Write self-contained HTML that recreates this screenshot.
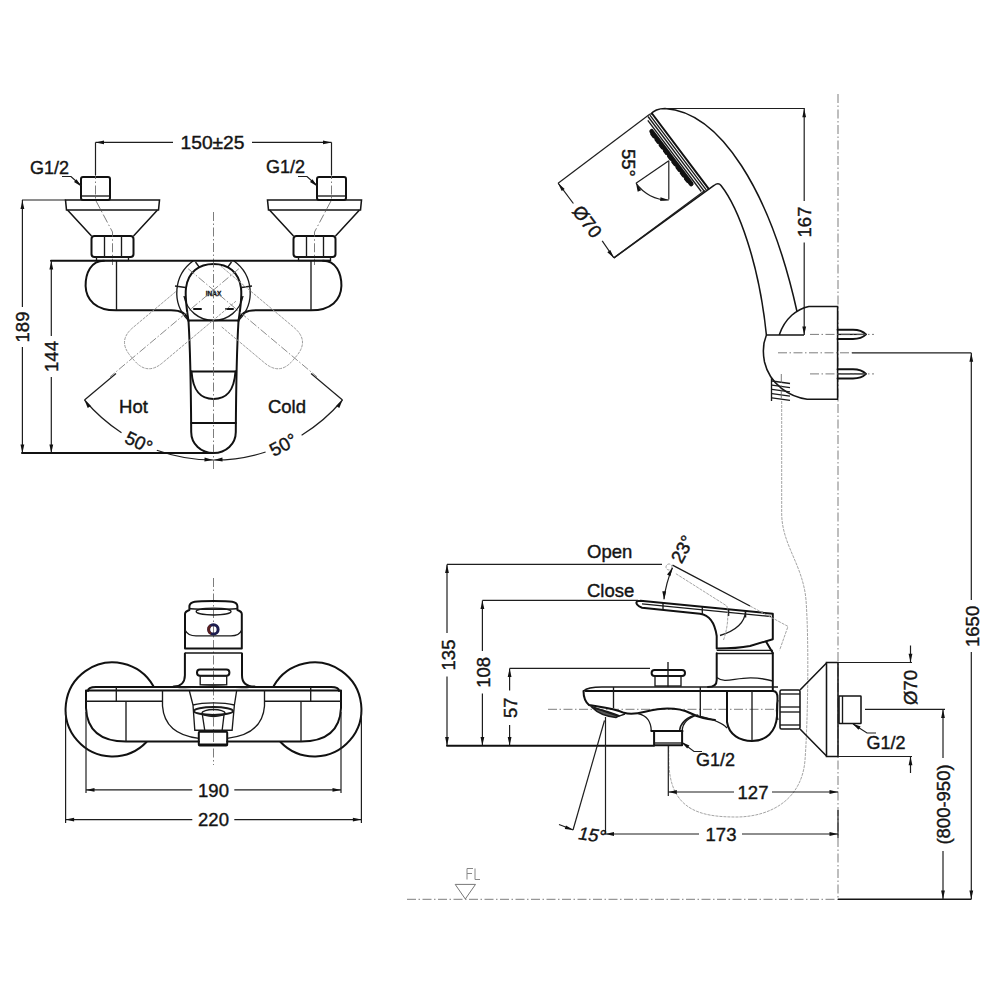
<!DOCTYPE html><html><head><meta charset="utf-8"><style>
html,body{margin:0;padding:0;background:#fff;}
svg{display:block;}
text{font-family:"Liberation Sans",sans-serif;fill:#141414;stroke:#141414;stroke-width:0.4;}
.m{fill:none;stroke:#151515;stroke-width:1.55;}
.o{fill:none;stroke:#111;stroke-width:2.0;stroke-linejoin:round;stroke-linecap:round;}
.t{fill:none;stroke:#1a1a1a;stroke-width:1.35;}
.d{fill:none;stroke:#1e1e1e;stroke-width:1.2;}
.c{fill:none;stroke:#666;stroke-width:0.85;stroke-dasharray:9 2.5 1.5 2.5;}
.g{fill:none;stroke:#9a9a9a;stroke-width:0.9;stroke-dasharray:3 1;}
</style></head><body>
<svg width="1000" height="1000" viewBox="0 0 1000 1000">
<rect width="1000" height="1000" fill="#fff"/>
<rect x="81.0" y="177" width="29" height="23" rx="2" class="o"/>
<line x1="81.5" y1="196.0" x2="109.5" y2="196.0" class="t"/>
<path d="M65.5 200 L159.5 200 L158.5 210 L66.5 210 Z" class="m" />
<path d="M67.5 210 L91.5 236 M157.5 210 L133.5 236" class="m" />
<rect x="91.5" y="236" width="42" height="21" rx="3" class="o"/>
<line x1="104.5" y1="236.0" x2="104.5" y2="257.0" class="t"/>
<line x1="121.5" y1="236.0" x2="121.5" y2="257.0" class="t"/>
<rect x="96.5" y="257" width="32" height="3.5" rx="0" class="t"/>
<path d="M95.5 170 L95.5 200 L112.5 232 L112.5 265" class="c" />
<rect x="317.0" y="177" width="29" height="23" rx="2" class="o"/>
<line x1="317.5" y1="196.0" x2="345.5" y2="196.0" class="t"/>
<path d="M267.5 200 L361.5 200 L360.5 210 L268.5 210 Z" class="m" />
<path d="M269.5 210 L293.5 236 M359.5 210 L335.5 236" class="m" />
<rect x="293.5" y="236" width="42" height="21" rx="3" class="o"/>
<line x1="306.5" y1="236.0" x2="306.5" y2="257.0" class="t"/>
<line x1="323.5" y1="236.0" x2="323.5" y2="257.0" class="t"/>
<rect x="298.5" y="257" width="32" height="3.5" rx="0" class="t"/>
<path d="M331.5 170 L331.5 200 L314.5 232 L314.5 265" class="c" />
<path d="M104 260.8 C91 260.8 85.5 273 85.6 286 C86 300 96 310.3 116 310.3 L171 310.3 C182 310.3 187 314 188.5 321" class="o" />
<path d="M323 260.8 C336 260.8 341.5 273 341.4 286 C341 300 331 310.3 311 310.3 L256 310.3 C245 310.3 240 314 238.5 321" class="o" />
<line x1="116.5" y1="260.8" x2="116.5" y2="310.3" class="t"/>
<line x1="311.0" y1="260.8" x2="311.0" y2="310.3" class="t"/>
<path d="M193 261 A39 39 0 0 0 188 320" class="t" />
<path d="M234 261 A39 39 0 0 1 239 320" class="t" />
<path d="M184 296 A30 30 0 0 0 243 296" class="t" />
<line x1="195.5" y1="262.0" x2="199.5" y2="267.5" class="t"/>
<line x1="231.5" y1="262.0" x2="227.5" y2="267.5" class="t"/>
<line x1="175.0" y1="286.0" x2="185.5" y2="287.5" class="t"/>
<line x1="252.0" y1="286.0" x2="241.5" y2="287.5" class="t"/>
<path d="M188.5 321 C186 305 185 296 186 288 C188 272 199 264 213.5 264 C228 264 239 272 241 288 C242 296 241 305 238.5 321 C237 345 236 400 235.8 432 C235.8 444 226 453 213.5 453 C201 453 191.2 444 191.2 432 C191 400 190 345 188.5 321" class="o" />
<line x1="189.0" y1="320.5" x2="238.0" y2="320.5" class="o"/>
<line x1="191.0" y1="371.5" x2="236.0" y2="371.5" class="o"/>
<path d="M191.5 371.5 C193 392 201 399 213.5 399 C226 399 234 392 235.5 371.5" class="o" />
<line x1="191.5" y1="423.0" x2="235.8" y2="423.0" class="o"/>
<text x="213.5" y="296" font-size="8" font-weight="bold" text-anchor="middle" textLength="15.5" lengthAdjust="spacingAndGlyphs" stroke="#141414" stroke-width="0.35">INAX</text>
<line x1="194.0" y1="309.0" x2="201.0" y2="309.0" class="o"/>
<line x1="226.0" y1="309.0" x2="233.0" y2="309.0" class="o"/>
<g transform="translate(213.5 290) rotate(50)">
<path d="M-23 30 L-23 86 Q-23 106 -3 106 L3 106 Q23 106 23 86 L23 -10" class="g"/>
<line x1="0" y1="-33" x2="0" y2="135" class="g" style="stroke:#888;stroke-dasharray:8 2 1.5 2"/>
</g>
<g transform="translate(213.5 290) rotate(-50)">
<path d="M-23 30 L-23 86 Q-23 106 -3 106 L3 106 Q23 106 23 86 L23 -10" class="g"/>
<line x1="0" y1="-33" x2="0" y2="135" class="g" style="stroke:#888;stroke-dasharray:8 2 1.5 2"/>
</g>
<line x1="84.5" y1="400.0" x2="116.0" y2="373.5" class="d"/>
<line x1="342.5" y1="400.0" x2="311.0" y2="373.5" class="d"/>
<path d="M84.5 400 A169 169 0 0 0 121.5 432.7" class="d" />
<path d="M156.8 450.2 A169 169 0 0 0 213.5 460" class="d" />
<path d="M342.5 400 A169 169 0 0 1 301.6 435.2" class="d" />
<path d="M265.6 452 A169 169 0 0 1 213.5 460" class="d" />
<path d="M84.5 400.0 L90.9 405.9 L87.7 408.1Z" fill="#111"/>
<path d="M342.5 400.0 L339.3 408.1 L336.1 405.9Z" fill="#111"/>
<path d="M213.0 460.0 L204.4 461.4 L204.6 457.6Z" fill="#111"/>
<path d="M214.0 460.0 L222.4 457.6 L222.6 461.4Z" fill="#111"/>
<line x1="213.5" y1="212.0" x2="213.5" y2="470.0" class="c"/>
<line x1="95.5" y1="142.4" x2="173.0" y2="142.4" class="d"/>
<line x1="252.0" y1="142.4" x2="331.5" y2="142.4" class="d"/>
<path d="M95.5 142.4 L104.0 140.5 L104.0 144.3Z" fill="#111"/>
<path d="M331.5 142.4 L323.0 144.3 L323.0 140.5Z" fill="#111"/>
<line x1="95.5" y1="142.4" x2="95.5" y2="175.0" class="d"/>
<line x1="331.5" y1="142.4" x2="331.5" y2="175.0" class="d"/>
<text x="212.5" y="148.5" font-size="18.5" text-anchor="middle" textLength="64" lengthAdjust="spacingAndGlyphs">150±25</text>
<text x="30" y="174" font-size="18" text-anchor="start" >G1/2</text>
<text x="266" y="172.5" font-size="18" text-anchor="start" >G1/2</text>
<path d="M62 176.5 L71 176.5 L81.5 186" class="d" />
<path d="M81.5 186.5 L74.0 182.1 L76.5 179.3Z" fill="#111"/>
<path d="M298 176.5 L307 176.5 L317.5 186" class="d" />
<path d="M317.5 186.5 L310.0 182.1 L312.5 179.3Z" fill="#111"/>
<line x1="22.0" y1="200.0" x2="66.0" y2="200.0" class="d"/>
<line x1="22.4" y1="200.0" x2="22.4" y2="307.0" class="d"/>
<line x1="22.4" y1="347.0" x2="22.4" y2="453.0" class="d"/>
<path d="M22.4 200.5 L24.3 209.0 L20.5 209.0Z" fill="#111"/>
<path d="M22.4 453.0 L20.5 444.5 L24.3 444.5Z" fill="#111"/>
<g transform="translate(22.4 327) rotate(-90)"><text x="0" y="6.74" font-size="18.5" text-anchor="middle">189</text></g>
<line x1="51.0" y1="260.8" x2="330.0" y2="260.8" class="o"/>
<line x1="51.3" y1="260.8" x2="51.3" y2="336.0" class="d"/>
<line x1="51.3" y1="377.0" x2="51.3" y2="453.0" class="d"/>
<path d="M51.3 261.0 L53.2 269.5 L49.4 269.5Z" fill="#111"/>
<path d="M51.3 453.0 L49.4 444.5 L53.2 444.5Z" fill="#111"/>
<g transform="translate(51.3 356.5) rotate(-90)"><text x="0" y="6.74" font-size="18.5" text-anchor="middle">144</text></g>
<line x1="22.0" y1="453.0" x2="213.0" y2="453.0" class="o"/>
<text x="133.5" y="412.5" font-size="18.5" text-anchor="middle" >Hot</text>
<text x="287" y="412.5" font-size="18.5" text-anchor="middle" >Cold</text>
<g transform="translate(139 442) rotate(25)"><text x="0" y="6.74" font-size="18.5" text-anchor="middle">50°</text></g>
<g transform="translate(283 444.5) rotate(-28)"><text x="0" y="6.74" font-size="18.5" text-anchor="middle">50°</text></g>
<line x1="213.5" y1="578.0" x2="213.5" y2="765.0" class="c"/>
<path d="M153.3 686 A47 47 0 1 0 146.5 742" class="o" />
<path d="M273.7 686 A47 47 0 1 1 280.5 742" class="o" />
<path d="M88 691 C88 688 92 687 96 687 L331 687 C335 687 339 688 339 691" class="o" />
<path d="M86 690.5 L341 690.5" class="o" />
<path d="M86 691 L86 708 C87 730 100 741.5 126 741.5 L198.8 741.5" class="o" />
<path d="M341 691 L341 708 C340 730 327 741.5 301 741.5 L227.2 741.5" class="o" />
<line x1="86.0" y1="701.2" x2="162.5" y2="701.2" class="t"/>
<line x1="264.5" y1="701.2" x2="341.0" y2="701.2" class="t"/>
<line x1="116.3" y1="687.0" x2="116.3" y2="701.2" class="t"/>
<line x1="310.7" y1="687.0" x2="310.7" y2="701.2" class="t"/>
<line x1="126.0" y1="701.2" x2="126.0" y2="742.0" class="t"/>
<line x1="301.0" y1="701.2" x2="301.0" y2="742.0" class="t"/>
<path d="M162.5 690 L162.5 706 C164 726 178 736 198.8 738.3" class="t" />
<path d="M264.5 690 L264.5 706 C263 726 249 736 227.2 738.3" class="t" />
<path d="M185 648.6 L185 614 C185 612 186.5 611 189.4 610 L189.4 606 C190 601.5 195 601 213.5 601 C232 601 237 601.5 237.4 606 L237.4 610 C240.3 611 241.8 612 241.8 614 L241.8 648.6 Z" class="o" />
<path d="M189.4 608.5 C195 609.5 232 609.5 237.4 608.5" class="t" />
<ellipse cx="213.6" cy="611.6" rx="17.4" ry="3.4" class="t"/>
<path d="M185.2 630.2 C187 634 190 635.8 196 635.8 L231 635.8 C237 635.8 240 634 241.6 630.2" class="t" />
<circle cx="213.4" cy="629.4" r="4.7" fill="none" stroke="#1c1c4e" stroke-width="3"/>
<path d="M210.5 625.6 A4.7 4.7 0 0 0 211 633.6" fill="none" stroke="#5a2020" stroke-width="2.6"/>
<line x1="185.0" y1="653.0" x2="241.8" y2="653.0" class="m"/>
<path d="M184.9 653.4 L184.9 675.3 C184.9 683 180 686.6 173.6 686.6" class="o" />
<path d="M242 653.4 L242 675.3 C242 683 247 686.6 254.6 686.6" class="o" />
<path d="M175.4 687 C190 689 200 686 213.5 686 C227 686 237 689 251.6 687" class="t" />
<rect x="197" y="669.5" width="32.4" height="6.3" rx="3" class="o"/>
<rect x="200.2" y="675.8" width="26.5" height="9" rx="0" class="t"/>
<path d="M189.4 691 L193 705 L194.8 730.2 L232.1 730.2 L234.4 705 L236.6 691" class="t" />
<path d="M193 705 C200 703 207 702.8 213.5 702.8 C220 702.8 227 703 234.4 705" class="t" />
<ellipse cx="213.5" cy="711" rx="19.5" ry="4" fill="none" stroke="#1a1a1a" stroke-width="2"/>
<ellipse cx="213.5" cy="713" rx="11.5" ry="3.5" class="t"/>
<path d="M202.4 715 L204.7 730 M224 715 L222.2 730" class="t" />
<rect x="198.8" y="731.8" width="28.4" height="13.6" rx="1" class="o"/>
<line x1="199.0" y1="744.5" x2="227.0" y2="744.5" class="o"/>
<line x1="86.0" y1="712.0" x2="86.0" y2="793.0" class="d"/>
<line x1="341.0" y1="712.0" x2="341.0" y2="793.0" class="d"/>
<line x1="65.6" y1="712.0" x2="65.6" y2="823.0" class="d"/>
<line x1="361.4" y1="712.0" x2="361.4" y2="823.0" class="d"/>
<line x1="86.0" y1="789.9" x2="192.3" y2="789.9" class="d"/>
<line x1="234.3" y1="789.9" x2="341.0" y2="789.9" class="d"/>
<path d="M86.0 789.9 L94.5 788.0 L94.5 791.8Z" fill="#111"/>
<path d="M341.0 789.9 L332.5 791.8 L332.5 788.0Z" fill="#111"/>
<line x1="65.6" y1="819.6" x2="192.3" y2="819.6" class="d"/>
<line x1="234.3" y1="819.6" x2="361.4" y2="819.6" class="d"/>
<path d="M65.6 819.6 L74.1 817.7 L74.1 821.5Z" fill="#111"/>
<path d="M361.4 819.6 L352.9 821.5 L352.9 817.7Z" fill="#111"/>
<text x="213.5" y="796.7" font-size="18.5" text-anchor="middle" >190</text>
<text x="213.5" y="826.2" font-size="18.5" text-anchor="middle" >220</text>
<line x1="838.0" y1="94.0" x2="838.0" y2="899.3" class="c"/>
<path d="M650.5 114.5 C654 110 658 108.5 665 108.5 C720 112 770 190 797 311.5" class="m" />
<path d="M613.9 257.9 L714 185.5 C716.5 183.5 719 183 721 185.5 C738 207 759 262 766.4 335" class="m" />
<line x1="652.0" y1="113.5" x2="708.5" y2="188.6" class="o"/>
<line x1="649.9" y1="115.1" x2="706.4" y2="190.2" class="t"/>
<line x1="648.0" y1="116.5" x2="704.5" y2="191.6" class="t"/>
<line x1="647.8" y1="120.4" x2="701.3" y2="191.5" class="t"/>
<path d="M651.6 131.3 L691.3 184.0" fill="none" stroke="#111" stroke-width="4.6" stroke-linecap="round"/>
<path d="M651.2 134.1 L688.5 183.6" fill="none" stroke="#111" stroke-width="2" stroke-dasharray="4 3" stroke-linecap="round"/>
<line x1="650.0" y1="114.0" x2="558.1" y2="183.2" class="d"/>
<line x1="704.8" y1="190.4" x2="613.9" y2="257.9" class="d"/>
<line x1="558.1" y1="183.2" x2="573.4" y2="203.5" class="d"/>
<line x1="602.2" y1="240.8" x2="613.9" y2="257.9" class="d"/>
<path d="M558.1 183.2 L564.7 188.9 L561.7 191.1Z" fill="#111"/>
<path d="M613.9 257.9 L607.3 252.2 L610.3 250.0Z" fill="#111"/>
<g transform="translate(587.5 221.5) rotate(53)"><text x="0" y="6.74" font-size="18.5" text-anchor="middle">Ø70</text></g>
<line x1="668.8" y1="160.7" x2="668.8" y2="199.5" class="d"/>
<line x1="668.8" y1="160.7" x2="636.0" y2="183.2" class="d"/>
<path d="M636 183.2 A39.5 39.5 0 0 0 668.8 200" class="d" />
<path d="M636.0 183.2 L641.2 190.2 L637.7 191.7Z" fill="#111"/>
<path d="M668.8 200.0 L660.2 201.1 L660.5 197.3Z" fill="#111"/>
<g transform="translate(628.3 163) rotate(90)"><text x="0" y="6.74" font-size="18.5" text-anchor="middle">55°</text></g>
<line x1="665.0" y1="108.5" x2="804.8" y2="108.5" class="d"/>
<line x1="804.2" y1="108.5" x2="804.2" y2="201.0" class="d"/>
<line x1="804.2" y1="242.5" x2="804.2" y2="335.0" class="d"/>
<path d="M804.2 108.8 L806.1 117.3 L802.3 117.3Z" fill="#111"/>
<path d="M804.2 335.0 L802.3 326.5 L806.1 326.5Z" fill="#111"/>
<g transform="translate(804.2 222) rotate(-90)"><text x="0" y="6.74" font-size="18.5" text-anchor="middle">167</text></g>
<path d="M766.4 335 L804 335 M779.2 335 C785 318 797 309 808.8 306.4 L837.6 306.4 L837.6 399.2 L807.2 399.2 C790 397 770 385 764.5 362 C762.5 352 763.5 342 766.4 335" class="m" />
<path d="M837.6 329.79999999999995 L853 329.79999999999995 C860 329.79999999999995 864 332.4 866 334.4 C864 336.4 860 339.0 853 339.0 L837.6 339.0" class="o" />
<line x1="838.0" y1="334.4" x2="866.0" y2="334.4" class="t"/>
<line x1="810.0" y1="334.4" x2="874.0" y2="334.4" class="c"/>
<path d="M837.6 369.29999999999995 L853 369.29999999999995 C860 369.29999999999995 864 371.9 866 373.9 C864 375.9 860 378.5 853 378.5 L837.6 378.5" class="o" />
<line x1="838.0" y1="373.9" x2="866.0" y2="373.9" class="t"/>
<line x1="810.0" y1="373.9" x2="874.0" y2="373.9" class="c"/>
<line x1="778.0" y1="352.8" x2="852.0" y2="352.8" class="c"/>
<line x1="852.0" y1="352.8" x2="971.4" y2="352.8" class="d"/>
<line x1="772.0" y1="381.0" x2="790.0" y2="383.5" class="t"/>
<line x1="772.0" y1="385.2" x2="790.0" y2="387.7" class="t"/>
<line x1="772.0" y1="389.4" x2="790.0" y2="391.9" class="t"/>
<line x1="772.0" y1="393.6" x2="790.0" y2="396.1" class="t"/>
<line x1="772.0" y1="397.8" x2="790.0" y2="400.3" class="t"/>
<line x1="771.5" y1="378.0" x2="771.5" y2="401.0" class="t"/>
<line x1="781.3" y1="374.0" x2="781.3" y2="400.0" class="c"/>
<line x1="971.3" y1="353.0" x2="971.3" y2="600.0" class="d"/>
<line x1="971.3" y1="652.0" x2="971.3" y2="899.3" class="d"/>
<path d="M971.3 353.2 L973.2 361.7 L969.4 361.7Z" fill="#111"/>
<path d="M971.3 899.0 L969.4 890.5 L973.2 890.5Z" fill="#111"/>
<g transform="translate(972 626.4) rotate(-90)"><text x="0" y="6.74" font-size="18.5" text-anchor="middle">1650</text></g>
<path d="M781.7 401 L781.7 514 C782 545 803 565 806 600 C809 640 808 720 805 760 C802 800 770 817 736 817 C700 817 669 810 668.8 760 L668.8 746" class="g" />
<line x1="407.0" y1="899.3" x2="838.0" y2="899.3" class="c"/>
<line x1="838.0" y1="899.3" x2="971.4" y2="899.3" class="m"/>
<path d="M455.2 884.4 L475.5 884.4 L465.3 899 Z" fill="none" stroke="#777" stroke-width="1"/>
<path d="M467 879.5 L467 868.5 L473 868.5 M467 873.5 L472 873.5 M475 868.5 L475 879.5 L480 879.5" fill="none" stroke="#888" stroke-width="1"/>
<line x1="548.0" y1="709.3" x2="780.0" y2="709.3" class="c"/>
<path d="M640.5 600.8 L772.8 613.7 L772.8 639.2 L750 646 C740 648 730 648.5 716.7 648.5 L716.7 636 C715 624 710 615 700 613.7 L642 607.7 C637 606 635.5 603 637 601.5 C638 600.8 639.5 600.8 640.5 600.8" class="o" />
<line x1="642.0" y1="603.8" x2="771.0" y2="616.5" class="t"/>
<line x1="663.0" y1="603.0" x2="663.0" y2="609.5" class="t"/>
<line x1="702.3" y1="607.0" x2="702.3" y2="614.0" class="t"/>
<line x1="728.6" y1="609.0" x2="728.6" y2="616.0" class="t"/>
<line x1="745.6" y1="611.0" x2="745.6" y2="617.5" class="t"/>
<path d="M745.6 611 C745 622 738 630 720 635.5" class="t" />
<line x1="716.7" y1="650.3" x2="772.8" y2="650.3" class="t"/>
<line x1="716.7" y1="653.5" x2="772.8" y2="653.5" class="t"/>
<path d="M766 641.5 L772.8 653" class="o" />
<path d="M716.7 653.3 L716.7 680 C716.7 685 714 687 708 687" class="o" />
<path d="M772.8 653.3 L772.8 690" class="o" />
<path d="M716.7 677.5 C728 686 740 672 772.8 681" class="t" />
<path d="M672.5 565.2 L750 606" class="t" />
<path d="M750 606 L788 626.4 L779.6 650.2" class="g" />
<path d="M675.9 573.7 L726.9 606 C729 618 727 630 723.5 640" class="g" />
<circle cx="669" cy="567" r="3" class="g"/>
<path d="M672.5 567.8 A110 110 0 0 0 664 599.2" class="d" />
<path d="M672.5 567.8 L670.4 576.2 L667.0 574.5Z" fill="#111"/>
<path d="M664.0 599.8 L662.3 591.3 L666.1 591.3Z" fill="#111"/>
<rect x="651.6" y="670" width="33.4" height="6" rx="3" class="o"/>
<rect x="655" y="676" width="26" height="10" rx="0" class="t"/>
<line x1="668.0" y1="662.0" x2="668.0" y2="687.0" class="t"/>
<path d="M583.5 691 C586 688.5 592 687 602 687 L778 687" class="t" />
<path d="M585.5 691.1 L773 691.1" class="o" />
<path d="M583.5 691 C583.5 696 585.5 702 589 705.1 C600 707 613 708 624 712.8 C630 714.5 636 714 645 711.7 C655 709.5 662 708.6 667.4 708.6 C677 708.6 684 710 690 713 C696 716 706 719 715 720" class="o" />
<line x1="613.5" y1="687.0" x2="613.5" y2="708.0" class="t"/>
<line x1="700.3" y1="687.0" x2="700.3" y2="716.3" class="t"/>
<path d="M592.5 707.8 C602 710 612 712.5 619 715.8 L616 717.5 C606 716.5 598 713.5 592.5 707.8 Z" fill="#555" stroke="#1a1a1a" stroke-width="1.6"/>
<path d="M589 705.1 C600 710 612 714 618.4 716.3 L625 714" class="t" />
<path d="M638 713.5 C648 716 651 722 651.3 731 M698.2 714.9 C686 718 682.5 724 682.1 731" class="t" />
<path d="M694 715.5 C684 719 680 725 679.5 731" class="t" />
<line x1="651.3" y1="731.0" x2="682.5" y2="731.0" class="o"/>
<rect x="654.1" y="731" width="28" height="14.3" rx="0" class="o"/>
<line x1="654.1" y1="743.0" x2="682.1" y2="743.0" class="t"/>
<path d="M727 691 L727 722 C729 735 740 741 752 741 C766 741 776 732 777 716 L777.5 698 C777.5 694 776 691 773 691" class="o" />
<line x1="752.0" y1="691.0" x2="752.0" y2="741.0" class="t"/>
<path d="M700.3 716.3 C712 719 722 722 727 728" class="t" />
<rect x="780" y="690" width="20" height="39" rx="1.5" class="m"/>
<line x1="780.0" y1="694.0" x2="800.0" y2="694.0" class="t"/>
<line x1="780.0" y1="707.0" x2="800.0" y2="707.0" class="t"/>
<line x1="780.0" y1="712.0" x2="800.0" y2="712.0" class="t"/>
<line x1="780.0" y1="725.0" x2="800.0" y2="725.0" class="t"/>
<path d="M778 700 C776 705 776 715 778 720" class="t" />
<path d="M800 690 L826.5 663 M800 729 L826.5 756" class="m" />
<path d="M826.5 662.5 L838 662.5 L838 756.5 L826.5 756.5 Z" class="m" />
<rect x="839" y="696" width="22" height="27.5" rx="0.5" class="m"/>
<line x1="842.5" y1="696.0" x2="842.5" y2="723.5" class="t"/>
<line x1="447.0" y1="564.4" x2="662.0" y2="564.4" class="d"/>
<line x1="447.0" y1="564.4" x2="447.0" y2="633.0" class="d"/>
<line x1="447.0" y1="676.5" x2="447.0" y2="745.7" class="d"/>
<path d="M447.0 564.6 L448.9 573.1 L445.1 573.1Z" fill="#111"/>
<path d="M447.0 745.5 L445.1 737.0 L448.9 737.0Z" fill="#111"/>
<g transform="translate(448 655) rotate(-90)"><text x="0" y="6.74" font-size="18.5" text-anchor="middle">135</text></g>
<line x1="482.4" y1="600.4" x2="638.0" y2="600.4" class="d"/>
<line x1="482.4" y1="600.4" x2="482.4" y2="651.0" class="d"/>
<line x1="482.4" y1="693.5" x2="482.4" y2="745.7" class="d"/>
<path d="M482.4 600.6 L484.3 609.1 L480.5 609.1Z" fill="#111"/>
<path d="M482.4 745.5 L480.5 737.0 L484.3 737.0Z" fill="#111"/>
<g transform="translate(483 672.3) rotate(-90)"><text x="0" y="6.74" font-size="18.5" text-anchor="middle">108</text></g>
<line x1="509.6" y1="668.4" x2="650.0" y2="668.4" class="d"/>
<line x1="509.6" y1="668.4" x2="509.6" y2="690.5" class="d"/>
<line x1="509.6" y1="725.0" x2="509.6" y2="745.7" class="d"/>
<path d="M509.6 668.6 L511.5 677.1 L507.7 677.1Z" fill="#111"/>
<path d="M509.6 745.5 L507.7 737.0 L511.5 737.0Z" fill="#111"/>
<g transform="translate(510.2 707.8) rotate(-90)"><text x="0" y="6.74" font-size="18.5" text-anchor="middle">57</text></g>
<line x1="447.0" y1="745.7" x2="654.0" y2="745.7" class="o"/>
<text x="587" y="558" font-size="18.5" text-anchor="start" >Open</text>
<text x="587" y="597" font-size="18.5" text-anchor="start" >Close</text>
<g transform="translate(682 549) rotate(-62)"><text x="0" y="6.74" font-size="18.5" text-anchor="middle">23°</text></g>
<text x="696" y="766" font-size="18" text-anchor="start" >G1/2</text>
<path d="M682 742.5 L694 751.5 L702 751.5" class="d" />
<path d="M681.5 742.0 L689.4 745.6 L687.2 748.6Z" fill="#111"/>
<line x1="668.3" y1="746.0" x2="668.3" y2="796.0" class="d"/>
<line x1="668.3" y1="792.0" x2="734.0" y2="792.0" class="d"/>
<line x1="772.0" y1="792.0" x2="838.0" y2="792.0" class="d"/>
<path d="M668.3 792.0 L676.8 790.1 L676.8 793.9Z" fill="#111"/>
<path d="M838.0 792.0 L829.5 793.9 L829.5 790.1Z" fill="#111"/>
<text x="753" y="799" font-size="18.5" text-anchor="middle" >127</text>
<line x1="605.5" y1="717.0" x2="605.5" y2="834.5" class="d"/>
<line x1="605.5" y1="834.0" x2="699.0" y2="834.0" class="d"/>
<line x1="742.0" y1="834.0" x2="838.0" y2="834.0" class="d"/>
<path d="M605.5 834.0 L614.0 832.1 L614.0 835.9Z" fill="#111"/>
<path d="M838.0 834.0 L829.5 835.9 L829.5 832.1Z" fill="#111"/>
<line x1="838.0" y1="810.0" x2="838.0" y2="838.0" class="d"/>
<text x="721" y="840.5" font-size="18.5" text-anchor="middle" >173</text>
<line x1="604.5" y1="720.5" x2="573.0" y2="830.0" class="d"/>
<path d="M559 824.5 C564 826.5 569 828.5 573 830" class="d" />
<path d="M573.5 830.0 L564.8 829.1 L566.0 825.5Z" fill="#111"/>
<g transform="translate(577 839) rotate(8)"><text x="0" y="0" font-size="18" transform="skewX(-9)">15°</text></g>
<line x1="838.0" y1="662.5" x2="912.0" y2="662.5" class="d"/>
<line x1="838.0" y1="756.5" x2="912.0" y2="756.5" class="d"/>
<line x1="910.5" y1="645.5" x2="910.5" y2="662.5" class="d"/>
<line x1="910.5" y1="756.5" x2="910.5" y2="773.0" class="d"/>
<path d="M910.5 662.3 L908.6 653.8 L912.4 653.8Z" fill="#111"/>
<path d="M910.5 756.7 L912.4 765.2 L908.6 765.2Z" fill="#111"/>
<g transform="translate(910.5 687.5) rotate(-90)"><text x="0" y="6.74" font-size="18.5" text-anchor="middle">Ø70</text></g>
<line x1="865.0" y1="709.4" x2="945.0" y2="709.4" class="d"/>
<line x1="943.0" y1="709.4" x2="943.0" y2="758.0" class="d"/>
<line x1="943.0" y1="851.0" x2="943.0" y2="899.3" class="d"/>
<path d="M943.0 709.6 L944.9 718.1 L941.1 718.1Z" fill="#111"/>
<path d="M943.0 899.0 L941.1 890.5 L944.9 890.5Z" fill="#111"/>
<g transform="translate(943.5 804.5) rotate(-90)"><text x="0" y="6.74" font-size="18.5" text-anchor="middle">(800-950)</text></g>
<text x="866.5" y="749" font-size="18" text-anchor="start" >G1/2</text>
<path d="M853 724 L867 733 L876 733" class="d" />
<path d="M852.5 723.5 L860.6 726.6 L858.5 729.8Z" fill="#111"/>
</svg></body></html>
